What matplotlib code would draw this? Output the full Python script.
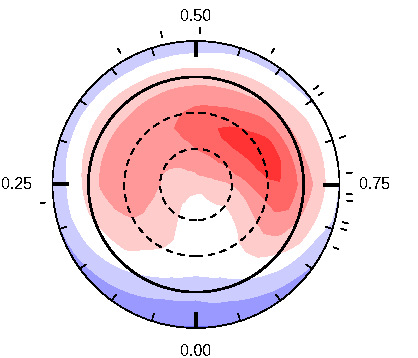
"""
Polar map of a stellar surface, seen from the pole
"""

import matplotlib
import matplotlib.pyplot as plt
import numpy as np

matplotlib.use("Agg")

# colatitude of each entry in a FIELD row (degrees from the visible pole)
COLATITUDE = [0, 10, 20, 30, 40, 50, 60, 70, 80, 90, 100, 110, 120]

# rotation phase of each row of FIELD
PHASE = [
    0 / 24, 1 / 24, 2 / 24, 3 / 24, 4 / 24, 5 / 24, 6 / 24, 7 / 24,
    8 / 24, 9 / 24, 10 / 24, 11 / 24, 12 / 24, 13 / 24, 14 / 24, 15 / 24,
    16 / 24, 17 / 24, 18 / 24, 19 / 24, 20 / 24, 21 / 24, 22 / 24, 23 / 24,
]

# map value, one row per phase, one entry per colatitude
FIELD = [
    [1.2, 0.27, 0.10, 0.05, 0.00, 0.00, 0.00, -0.20, -0.70, -1.35, -1.58, -2.10, -2.60],
    [1.2, 0.42, 0.20, 0.15, 0.20, 0.25, 0.20, -0.10, -0.50, -1.00, -1.55, -2.05, -2.55],
    [1.2, 0.52, 0.35, 0.52, 0.65, 0.75, 0.55, 0.20, -0.10, -0.65, -1.20, -1.75, -2.40],
    [1.2, 0.85, 0.75, 0.75, 0.85, 0.95, 0.90, 0.70, 0.45, -0.15, -0.75, -1.42, -2.10],
    [1.2, 1.00, 0.95, 0.95, 1.10, 1.45, 1.42, 1.20, 0.85, 0.15, -0.30, -0.95, -1.80],
    [1.2, 1.05, 1.05, 1.20, 1.70, 1.85, 1.95, 1.55, 1.20, 0.65, 0.05, -0.70, -1.56],
    [1.2, 1.05, 1.15, 1.50, 1.80, 2.00, 2.05, 1.90, 1.55, 0.90, 0.10, -0.65, -1.45],
    [1.2, 1.10, 1.25, 1.50, 1.85, 2.00, 2.10, 1.95, 1.55, 1.00, 0.30, -0.45, -1.60],
    [1.2, 1.15, 1.35, 1.60, 1.85, 2.00, 2.10, 1.95, 1.53, 1.05, 0.45, -0.35, -1.45],
    [1.2, 1.30, 1.50, 1.70, 1.90, 2.05, 2.10, 1.95, 1.50, 1.05, 0.47, -0.47, -1.20],
    [1.2, 1.40, 1.65, 1.85, 2.05, 2.20, 2.20, 1.95, 1.55, 1.00, 0.35, -0.60, -1.20],
    [1.2, 1.45, 1.75, 2.10, 2.50, 2.70, 2.40, 2.05, 1.60, 1.05, 0.30, -0.60, -1.15],
    [1.2, 1.50, 1.95, 2.50, 2.95, 3.10, 2.85, 2.20, 1.65, 1.05, 0.30, -0.55, -1.10],
    [1.2, 1.55, 2.10, 2.65, 3.00, 3.30, 3.00, 2.30, 1.70, 1.10, 0.35, -0.35, -1.00],
    [1.2, 1.55, 2.15, 2.70, 3.30, 3.75, 3.30, 2.60, 1.80, 1.25, 0.50, -0.30, -1.00],
    [1.2, 1.50, 2.10, 2.70, 3.30, 3.85, 3.65, 3.00, 2.40, 1.45, 0.65, -0.15, -0.85],
    [1.2, 1.40, 1.90, 2.50, 3.15, 3.65, 4.05, 3.70, 2.60, 1.60, 0.95, 0.30, -0.55],
    [1.2, 1.30, 1.60, 2.25, 2.85, 3.35, 3.95, 3.80, 2.85, 1.70, 1.05, 0.35, -0.55],
    [1.2, 1.20, 1.30, 1.50, 2.20, 2.80, 3.30, 3.45, 2.85, 2.10, 1.30, 0.30, -0.60],
    [1.2, 1.00, 1.00, 1.05, 1.40, 1.95, 2.40, 2.75, 2.50, 1.65, 0.90, 0.05, -0.70],
    [1.2, 0.85, 0.70, 0.60, 0.80, 1.20, 1.60, 1.85, 1.65, 1.10, 0.45, -0.85, -1.45],
    [1.2, 0.80, 0.55, 0.35, 0.40, 0.55, 0.85, 0.95, 0.75, 0.20, -0.50, -1.25, -2.00],
    [1.2, 0.40, 0.15, 0.10, 0.10, 0.15, 0.20, 0.15, -0.10, -0.47, -1.05, -1.70, -2.40],
    [1.2, 0.30, 0.10, 0.05, 0.00, 0.00, 0.00, -0.15, -0.50, -1.00, -1.45, -2.00, -2.55],
]

LEVELS = [-3.5, -2.5, -1.5, -0.5, 0.5, 1.5, 2.5, 3.5, 4.5]
LEVEL_COLORS = [
    "#6666ff", "#9999ff", "#ccccff", "#ffffff",
    "#ffcccc", "#ff9999", "#ff6666", "#ff3333",
]

# phases of the observations, drawn outside the rim
OBSERVED_PHASES = [
    0.231, 0.417, 0.464, 0.504, 0.583, 0.642, 0.650,
    0.700, 0.738, 0.760, 0.767, 0.790, 0.797, 0.818,
]
MINOR_PHASES = [i * 0.05 for i in range(20) if i % 5 != 0]
MAJOR_PHASES = [0.00, 0.25, 0.50, 0.75]
MAJOR_LABELS = ["0.00", "0.25", "0.50", "0.75"]
LABEL_RADII = [139.5, 150, 140.5, 150]


def create_graph():
    """Draw the map and save it"""
    plt.rcParams["font.family"] = ["Liberation Sans", "DejaVu Sans"]
    plt.rcParams["text.antialiased"] = False
    plt.rcParams["lines.antialiased"] = False

    fig = plt.figure(figsize=(4.18, 3.58), dpi=100)
    ax = fig.add_axes(
        [52.5 / 418, 30 / 358, 287 / 418, 287 / 358], projection="polar"
    )
    ax.set_theta_zero_location("S")
    ax.set_theta_direction(-1)

    # close the map in phase, and run it past the rim so the chords hide
    field = np.array(FIELD)
    field = np.vstack([field, field[0]])
    field = np.hstack([field, field[:, -1:]])
    theta = 2 * np.pi * np.array(PHASE + [1.0])
    colat = np.array(COLATITUDE + [135])
    contours = ax.contourf(
        theta, colat, field.T, levels=LEVELS, colors=LEVEL_COLORS, antialiased=False
    )
    # bend the contour edges with the polar projection
    for path in contours.get_paths():
        path._interpolation_steps = 8

    # latitude circles
    circle = np.linspace(0, 2 * np.pi, 361)
    for ring in [30, 60]:
        ax.plot(circle, np.full(361, ring), color="black", lw=0.4, dashes=(11, 9))
    ax.plot(circle, np.full(361, 90), color="black", lw=1.2)

    # phase ticks
    for phase in MINOR_PHASES:
        ax.plot([2 * np.pi * phase] * 2, [114, 120], color="black", lw=0.4)
    for phase in MAJOR_PHASES:
        ax.plot([2 * np.pi * phase] * 2, [108, 120], color="black", lw=1.6)
    for phase in OBSERVED_PHASES:
        ax.plot(
            [2 * np.pi * phase] * 2, [126.7, 131], color="black", lw=0.4, clip_on=False
        )

    for phase, label, radius in zip(MAJOR_PHASES, MAJOR_LABELS, LABEL_RADII):
        ax.text(
            2 * np.pi * phase, radius, label, fontsize=11.5, ha="center", va="center"
        )

    ax.set_rlim(0, 120)
    ax.grid(False)
    ax.set_xticks([])
    ax.set_yticks([])
    ax.spines["polar"].set_linewidth(0.5)
    ax.spines["polar"].set_antialiased(False)

    fig.savefig("out.png", dpi=100)
    plt.close(fig)


if __name__ == "__main__":
    create_graph()
